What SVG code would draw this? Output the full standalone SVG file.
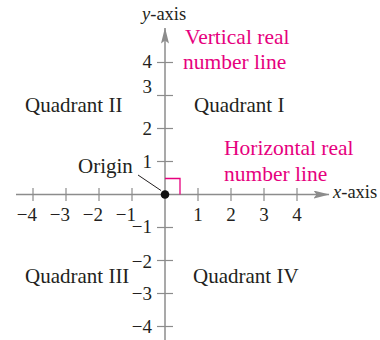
<svg xmlns="http://www.w3.org/2000/svg" width="380" height="340" viewBox="0 0 380 340">
<defs>
<style>
.t{font-family:"Liberation Serif","Times New Roman",serif;font-size:21px;fill:#231f20}
.a{font-family:"Liberation Serif","Times New Roman",serif;font-size:18.5px;fill:#231f20}
.n{font-family:"Liberation Serif","Times New Roman",serif;font-size:19px;fill:#231f20}
.p{font-family:"Liberation Serif","Times New Roman",serif;font-size:21.5px;fill:#e6007e}
.ax{stroke:#8c8c8c;stroke-width:1.5;fill:none}
.tk{stroke:#8c8c8c;stroke-width:1.2}
</style>
<marker id="arr" viewBox="0 0 16 8" refX="15.5" refY="4" markerWidth="16" markerHeight="8" markerUnits="userSpaceOnUse" orient="auto">
<path d="M0,0 L16,4 L0,8 L3,4 Z" fill="#8c8c8c"/>
</marker>
</defs>
<rect width="380" height="340" fill="#fff"/>
<g id="connectors">
<line class="ax" x1="16" y1="194.5" x2="329" y2="194.5" marker-end="url(#arr)"/>
<line class="ax" x1="165" y1="340" x2="165" y2="28" marker-end="url(#arr)"/>
<g class="tk">
<line x1="33" y1="188" x2="33" y2="201"/>
<line x1="66" y1="188" x2="66" y2="201"/>
<line x1="99" y1="188" x2="99" y2="201"/>
<line x1="132" y1="188" x2="132" y2="201"/>
<line x1="198" y1="188" x2="198" y2="201"/>
<line x1="231" y1="188" x2="231" y2="201"/>
<line x1="264" y1="188" x2="264" y2="201"/>
<line x1="297" y1="188" x2="297" y2="201"/>
<line x1="157" y1="62.5" x2="173" y2="62.5"/>
<line x1="157" y1="95.5" x2="173" y2="95.5"/>
<line x1="157" y1="128.5" x2="173" y2="128.5"/>
<line x1="157" y1="161.5" x2="173" y2="161.5"/>
<line x1="157" y1="227.5" x2="173" y2="227.5"/>
<line x1="157" y1="260.5" x2="173" y2="260.5"/>
<line x1="157" y1="293.5" x2="173" y2="293.5"/>
<line x1="157" y1="326.5" x2="173" y2="326.5"/>
</g>
<line x1="138" y1="175" x2="161" y2="190.5" stroke="#231f20" stroke-width="1"/>
<polyline points="165,178.5 180,178.5 180,194.5" fill="none" stroke="#e6007e" stroke-width="1.3"/>
</g>
<g id="origin">
<circle cx="165" cy="194.5" r="4.3" fill="#111"/>
<text class="t" x="78" y="173">Origin</text>
</g>
<g id="x-labels" class="n">
<text x="37" y="221" text-anchor="end">−4</text>
<text x="70" y="221" text-anchor="end">−3</text>
<text x="103" y="221" text-anchor="end">−2</text>
<text x="136" y="221" text-anchor="end">−1</text>
<text x="198" y="221" text-anchor="middle">1</text>
<text x="231" y="221" text-anchor="middle">2</text>
<text x="264" y="221" text-anchor="middle">3</text>
<text x="297" y="221" text-anchor="middle">4</text>
</g>
<g id="y-labels" class="n" text-anchor="end">
<text x="152" y="68">4</text>
<text x="152" y="93">3</text>
<text x="152" y="135">2</text>
<text x="152" y="168">1</text>
<text x="152" y="233">−1</text>
<text x="152" y="268">−2</text>
<text x="152" y="300">−3</text>
<text x="152" y="333">−4</text>
</g>
<g id="y-axis-label"><text class="a" x="142" y="20"><tspan font-style="italic">y</tspan>-axis</text></g>
<g id="x-axis-label"><text class="a" x="333" y="198"><tspan font-style="italic">x</tspan>-axis</text></g>
<g id="vertical-line-label">
<text class="p" x="185" y="44">Vertical real</text>
<text class="p" x="183" y="69">number line</text>
</g>
<g id="horizontal-line-label">
<text class="p" x="224" y="155">Horizontal real</text>
<text class="p" x="224" y="181">number line</text>
</g>
<g id="q1"><text class="t" x="194" y="112">Quadrant I</text></g>
<g id="q2"><text class="t" x="25" y="112">Quadrant II</text></g>
<g id="q3"><text class="t" x="25" y="283">Quadrant III</text></g>
<g id="q4"><text class="t" x="193" y="283">Quadrant IV</text></g>
</svg>
